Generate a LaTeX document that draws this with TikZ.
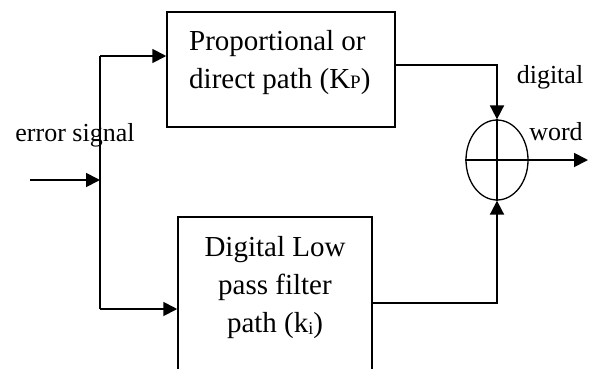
\documentclass[tikz,border=0pt]{standalone}
\usepackage{fontspec}
\setmainfont{Liberation Serif}
\usetikzlibrary{arrows.meta,shapes.geometric}
\begin{document}
\begin{tikzpicture}[x=1pt,y=-1pt,
  blk/.style={draw,line width=1.5pt,rectangle,inner sep=0pt},
  conn/.style={line width=1.8pt},
  arr/.style={conn,-{Triangle[length=14pt,width=14pt]}},
  txt/.style={font=\fontsize{26}{39}\selectfont,inner sep=0pt},
  btxt/.style={font=\fontsize{29}{38}\selectfont,inner sep=0pt}]
\useasboundingbox (0,0) rectangle (591,368);
\clip (0,0) rectangle (591,368);
% boxes
\node[blk,minimum width=228pt,minimum height=115pt] (top) at (281,69.5) {};
\node[blk,minimum width=194pt,minimum height=200pt] (bot) at (275,317) {};
\node[btxt,anchor=north west,align=left] (toptxt) at (189,30) {Proportional or\\direct path (K{\fontsize{19}{19}\selectfont P})};
\node[btxt,anchor=north,align=center] (bottxt) at (275,236) {Digital Low\\pass filter\\path (k\raisebox{-2pt}{\fontsize{18}{18}\selectfont i})};
% summing junction
\node[draw,ellipse,line width=1.3pt,minimum width=62pt,minimum height=80pt,inner sep=0pt] (sum) at (497,160) {};
\draw[line width=1.3pt] (sum.north) -- (sum.south) (sum.west) -- (sum.east);
% labels
\node[txt,anchor=base] (err) at (75,141) {error signal};
\node[txt,anchor=base] (dig) at (550,83) {digital};
\node[txt,anchor=base] (wrd) at (556,140) {word};
% connectors
\coordinate (in) at (30,180);
\coordinate (j) at (100,180);
\coordinate (jt) at (100,56);
\coordinate (jb) at (100,309);
\coordinate (out) at (588,160);
\draw[arr] (in) -- (j);
\draw[conn] (jt) -- (jb);
\draw[arr] (jt) -- (jt -| top.west);
\draw[arr] (jb) -- (jb -| bot.west);
\draw[arr] (top.east |- 0,65) -- (sum.north |- 0,65) -- (sum.north);
\draw[arr] (bot.east |- 0,303) -- (sum.south |- 0,303) -- (sum.south);
\draw[arr] (sum.east) -- (out);
\end{tikzpicture}
\end{document}
